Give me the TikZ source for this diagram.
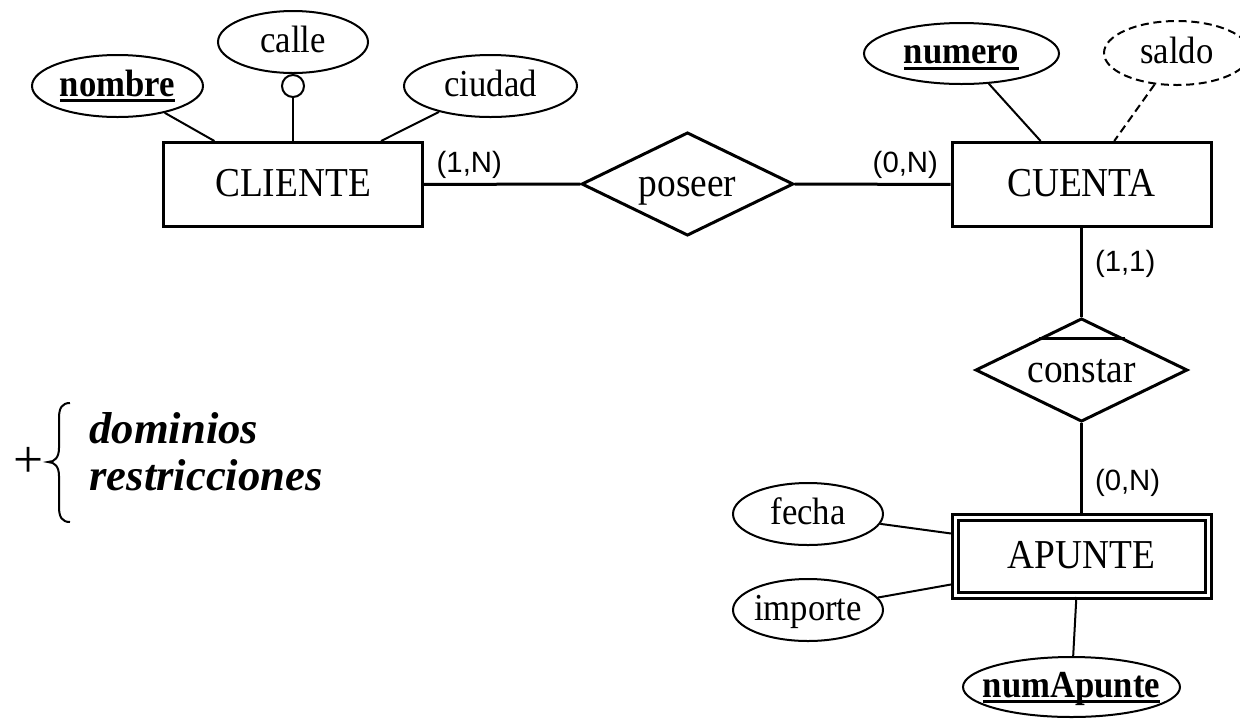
\documentclass[tikz,border=0pt]{standalone}
\usepackage{fontspec}
\setmainfont{Liberation Serif}
\newfontfamily\serifalta{Liberation Serif}[FakeStretch=0.91]
\newfontfamily\cardfont{Liberation Sans}
\usetikzlibrary{shapes.geometric,calc}

\newcommand{\atxt}[1]{\makebox[0pt]{#1}}
\newcommand{\clave}[1]{\setbox0\hbox{\bfseries #1}\rlap{\rule[-0.17em]{\wd0}{2.25pt}}\box0}

\tikzset{every picture/.style={line width=0.75pt}}
\tikzset{
  entidad/.style={draw, rectangle, line width=2.25pt, inner sep=0pt,
    minimum width=194.25pt, minimum height=63pt,
    font=\serifalta\fontsize{30.8}{32}\selectfont, text height=19.2pt, text depth=0.8pt},
  debil/.style={entidad, double, double distance=2.25pt,
    minimum width=189.75pt, minimum height=58.5pt},
  relacion/.style={draw, diamond, aspect=2, line width=2.25pt, inner sep=0pt,
    minimum width=159pt, minimum height=77.5pt,
    font=\serifalta\fontsize{30.8}{32}\selectfont, text height=19.2pt, text depth=0.8pt},
  atributo/.style={draw, ellipse, line width=1.5pt, inner sep=0pt,
    minimum height=46.5pt,
    font=\serifalta\fontsize{28.6}{30}\selectfont, text height=16.6pt, text depth=1.6pt},
  derivado/.style={atributo, dash pattern=on 6pt off 3.5pt},
  card/.style={inner sep=0pt, font=\cardfont\fontsize{22}{24}\selectfont},
  enlace/.style={line width=2.25pt},
  rama/.style={line width=1.5pt},
}

\begin{document}
\begin{tikzpicture}[x=0.75pt,y=0.75pt,yscale=-1,xscale=1]
\useasboundingbox (0,0) rectangle (1240,719);

% entidades y relaciones
\node (cliente) [entidad] at (293,184.5) {CLIENTE};
\node (cuenta) [entidad] at (1081.5,184.5) {CUENTA};
\node (apunte) [debil] at (1081.5,556.5) {APUNTE};
\node (poseer) [relacion] at (687.5,184) {poseer};
\node (constar) [relacion] at (1081.5,370) {constar};

% atributos
\node (nombre) [atributo, minimum width=128.25pt] at (117.5,86) {\atxt{\clave{nombre}}};
\node (calle) [atributo, minimum width=112.5pt] at (293,42) {\atxt{calle}};
\node (ciudad) [atributo, minimum width=129.75pt] at (490.5,86) {\atxt{ciudad}};
\node (opc) [draw, circle, line width=1.5pt, inner sep=0pt, minimum size=16.5pt] at (293,86) {};
\node (numero) [atributo, minimum width=146.25pt, minimum height=45.75pt] at (961.5,53.5) {\atxt{\clave{numero}}};
\node (saldo) [derivado, minimum width=109.5pt, minimum height=48pt] at (1177,53) {\atxt{saldo}};
\node (fecha) [atributo, minimum width=112.5pt] at (808,514) {\atxt{fecha}};
\node (importe) [atributo, minimum width=112.5pt] at (808,610) {\atxt{importe}};
\node (numapunte) [atributo, minimum width=162.75pt, minimum height=45pt] at (1071.5,687) {\atxt{\clave{numApunte}}};

% lineas de atributos
\draw [rama] (nombre) -- ($(cliente.north west)!0.2!(cliente.north east)$);
\draw [rama] (opc) -- (opc |- cliente.north);
\draw [rama] (ciudad) -- ($(cliente.north west)!0.836!(cliente.north east)$);
\draw [rama] (numero) -- ($(cuenta.north west)!0.344!(cuenta.north east)$);
\draw [rama, dash pattern=on 6pt off 3.5pt] (saldo) -- ($(cuenta.north west)!0.625!(cuenta.north east)$);
\draw [rama] (fecha) -- ($(apunte.north west)!0.22!(apunte.south west)$);
\draw [rama] (importe) -- ($(apunte.north west)!0.84!(apunte.south west)$);
\draw [rama] (numapunte) -- ($(apunte.south west)!0.48!(apunte.south east)$);

% relaciones
\draw [enlace] (cliente) -- node [card, pos=0.29, above=3pt] {(1,N)} (poseer);
\draw [enlace] (poseer) -- node [card, pos=0.71, above=3pt] {(0,N)} (cuenta);
\draw [enlace] (cuenta) -- node [card, pos=0.4, right=9pt] {(1,1)} (constar);
\draw [enlace] (constar) -- node [card, pos=0.64, right=9pt] {(0,N)} (apunte);
\draw [enlace] ($(constar.north)!0.4!(constar.west)$) -- ($(constar.north)!0.4!(constar.east)$);

% texto de la izquierda
\node (mas) [inner sep=0pt, font=\fontsize{40}{40}\selectfont] at (28.5,462) {+};
\draw [rama] (70,403) .. controls (62,403) and (59,408) .. (59,418) -- (59,448) .. controls (59,457) and (55,462) .. (48,462) .. controls (55,462) and (59,467) .. (59,476) -- (59,507) .. controls (59,517) and (62,522) .. (70,522);
\node (dom) [anchor=base west, inner sep=0pt, font=\fontsize{33.5}{36}\selectfont\bfseries\itshape] at (89,443) {dominios};
\node (res) [anchor=base west, inner sep=0pt, font=\fontsize{33.5}{36}\selectfont\bfseries\itshape] at (89,490) {restricciones};

\end{tikzpicture}
\end{document}
